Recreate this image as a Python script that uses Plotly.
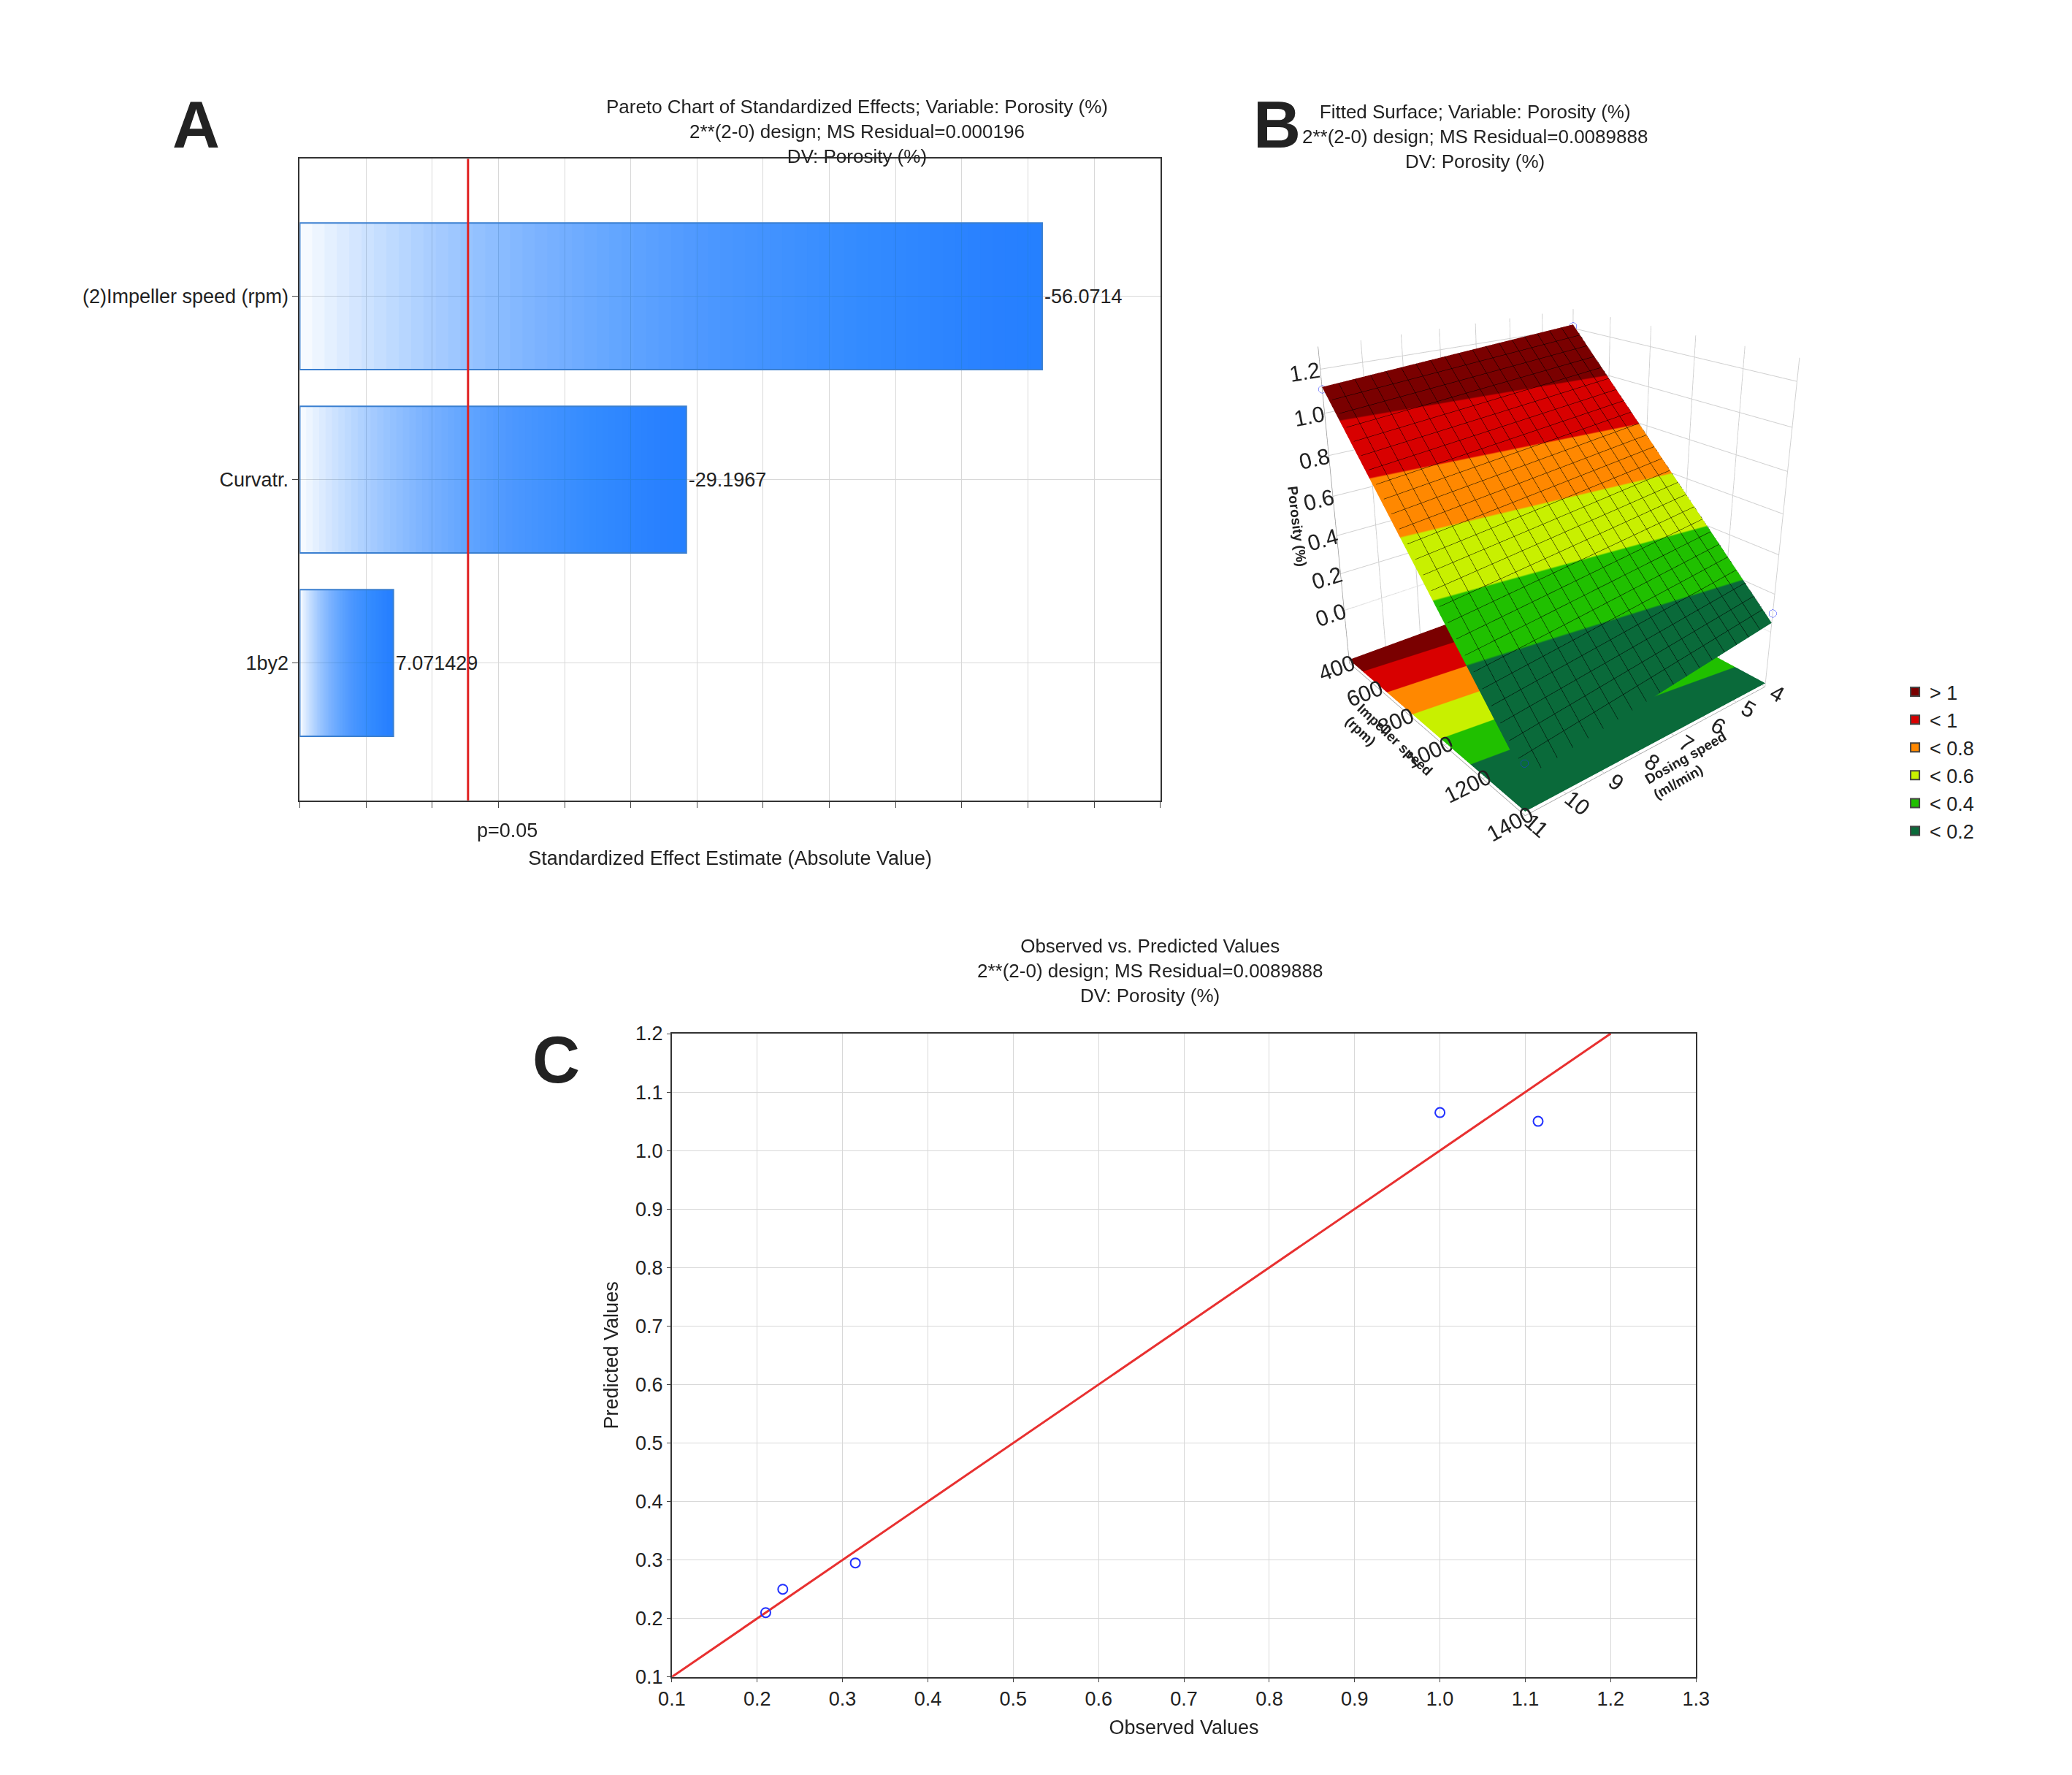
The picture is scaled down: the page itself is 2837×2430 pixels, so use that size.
import numpy as np
import plotly.graph_objects as go

# ---- Panel A data
effects = ["(2)Impeller speed (rpm)", "Curvatr.", "1by2"]
effect_values = [56.0714, 29.1967, 7.071429]
effect_labels = ["-56.0714", "-29.1967", "7.071429"]
p_crit = 12.706

# ---- Panel B data (fitted model corners)
impeller_levels = [400, 1400]
dosing_levels = [4, 11]
corner_z = [[1.22, 1.12], [0.05, -0.12]]  # [impeller][dosing]
obs_imp = [400, 1400, 1400, 400]
obs_dos = [4, 4, 11, 11]
obs_por = [1.21, 0.10, -0.05, 1.11]
band_labels = ["> 1", "< 1", "< 0.8", "< 0.6", "< 0.4", "< 0.2"]
band_colors = ["#7a0000", "#d80000", "#ff8800", "#c8f000", "#20c000", "#0a6a3a"]

# ---- Panel C data
observed = [0.21, 0.23, 0.315, 1.0, 1.115]
predicted = [0.21, 0.25, 0.295, 1.065, 1.05]
line_ends = [0.1, 1.2]

FONT = "Liberation Sans, Arial, sans-serif"
fig = go.Figure()

N = 60
for k in range(N):
    fig.add_trace(go.Bar(
        y=effects, x=[v * (1 - k / N) for v in effect_values],
        base=[v * k / N for v in effect_values], orientation="h",
        marker=dict(color="rgba(30,140,255,0.04)", line_width=0),
        width=0.8, showlegend=False, hoverinfo="skip", xaxis="x", yaxis="y"))
fig.add_trace(go.Bar(
    y=effects, x=effect_values, orientation="h", width=0.8,
    marker=dict(color="rgba(0,0,0,0)", line=dict(color="#3a7fd0", width=2)),
    text=effect_labels, textposition="outside",
    textfont=dict(size=27, color="#222"), cliponaxis=False,
    showlegend=False, xaxis="x", yaxis="y"))
fig.add_shape(type="line", x0=p_crit, x1=p_crit, y0=0, y1=1, xref="x", yref="y domain",
              line=dict(color="#e02020", width=3))

# Surface (x = dosing, y = impeller)
gi = np.linspace(impeller_levels[0], impeller_levels[1], 26)
gd = np.linspace(dosing_levels[0], dosing_levels[1], 19)
D, I = np.meshgrid(gd, gi)
u = (I - impeller_levels[0]) / (impeller_levels[1] - impeller_levels[0])
w = (D - dosing_levels[0]) / (dosing_levels[1] - dosing_levels[0])
Z = (corner_z[0][0] * (1 - u) * (1 - w) + corner_z[0][1] * (1 - u) * w
     + corner_z[1][0] * u * (1 - w) + corner_z[1][1] * u * w)
thr = [0.2, 0.4, 0.6, 0.8, 1.0]
cols = band_colors[::-1]
zmin, zmax = 0.0, 1.2
cs = []
edges = [zmin] + thr + [zmax]
for i, c in enumerate(cols):
    a = (edges[i] - zmin) / (zmax - zmin)
    b = (edges[i + 1] - zmin) / (zmax - zmin)
    cs += [[a, c], [b, c]]
Zc = np.clip(Z, zmin, zmax)
fig.add_trace(go.Surface(
    x=D, y=I, z=Z, surfacecolor=Zc, cmin=zmin, cmax=zmax, colorscale=cs,
    showscale=False, scene="scene",
    contours=dict(x=dict(show=True, color="black", width=3, start=4, end=11, size=7 / 18),
                  y=dict(show=True, color="black", width=3, start=400, end=1400, size=40)),
    lighting=dict(ambient=0.95, diffuse=0.1, specular=0.0)))
floor = np.full_like(Z, -0.28)
fig.add_trace(go.Surface(
    x=D, y=I, z=floor, surfacecolor=Zc, cmin=zmin, cmax=zmax, colorscale=cs,
    showscale=False, scene="scene", lighting=dict(ambient=1, diffuse=0, specular=0)))
fig.add_trace(go.Scatter3d(
    x=obs_dos, y=obs_imp, z=obs_por, mode="markers", scene="scene",
    marker=dict(size=6, color="rgba(0,0,0,0)", line=dict(color="#2030ff", width=4)),
    showlegend=False))

for lab, col in zip(band_labels, band_colors):
    fig.add_trace(go.Scatter(x=[None], y=[None], mode="markers", name=lab,
                             marker=dict(symbol="square", size=30, color=col,
                                         line=dict(color="#444", width=1)),
                             xaxis="x2", yaxis="y2"))

fig.add_trace(go.Scatter(x=line_ends, y=line_ends, mode="lines",
                         line=dict(color="#e83030", width=3), showlegend=False,
                         xaxis="x2", yaxis="y2"))
fig.add_trace(go.Scatter(x=observed, y=predicted, mode="markers",
                         marker=dict(symbol="circle-open", size=13, color="#2030ff",
                                     line=dict(width=2)),
                         showlegend=False, xaxis="x2", yaxis="y2"))

axfont = dict(size=27, color="#222", family=FONT)
ax3 = dict(showbackground=True, backgroundcolor="white", gridcolor="#d0d0d0",
           showline=True, linecolor="#888", tickfont=dict(size=19, color="#222", family=FONT))
tfont3 = dict(size=19, family=FONT, color="#222")
fig.update_layout(
    width=2837, height=2430, paper_bgcolor="white", plot_bgcolor="white",
    font=dict(family=FONT, color="#222"), margin=dict(l=0, r=0, t=0, b=0),
    barmode="overlay",
    xaxis=dict(domain=[0.137, 0.558], anchor="y", range=[0, 65], dtick=5,
               showticklabels=False, showgrid=True, gridcolor="#d8d8d8",
               showline=True, linecolor="#333", linewidth=2, mirror=True, zeroline=False,
               ticks="outside", ticklen=8,
               title=dict(text="Standardized Effect Estimate (Absolute Value)", font=axfont, standoff=60)),
    yaxis=dict(domain=[0.553, 0.919], anchor="x", range=[2.75, -0.75], tickfont=axfont,
               showline=True, linecolor="#333", linewidth=2, mirror=True,
               showgrid=True, gridcolor="#d8d8d8", ticks="outside", ticklen=8),
    xaxis2=dict(domain=[0.319, 0.82], anchor="y2", range=[0.1, 1.3], dtick=0.1,
                tickformat=".1f", tickfont=axfont, showgrid=True, gridcolor="#d8d8d8",
                showline=True, linecolor="#333", linewidth=2, mirror=True, zeroline=False,
                ticks="outside", title=dict(text="Observed Values", font=axfont)),
    yaxis2=dict(domain=[0.053, 0.42], anchor="x2", range=[0.1, 1.2], dtick=0.1,
                tickformat=".1f", tickfont=axfont, showgrid=True, gridcolor="#d8d8d8",
                showline=True, linecolor="#333", linewidth=2, mirror=True, zeroline=False,
                ticks="outside", title=dict(text="Predicted Values", font=axfont)),
    scene=dict(domain=dict(x=[0.57, 0.93], y=[0.49, 0.93]),
               xaxis=dict(ax3, title=dict(text="<b>Dosing speed<br>(ml/min)</b>", font=tfont3),
                          range=[4, 11], dtick=1),
               yaxis=dict(ax3, title=dict(text="<b>Impeller speed<br>(rpm)</b>", font=tfont3),
                          range=[400, 1400], dtick=200),
               zaxis=dict(ax3, title=dict(text="<b>Porosity (%)</b>", font=tfont3),
                          range=[-0.3, 1.3], tickvals=[0, 0.2, 0.4, 0.6, 0.8, 1.0, 1.2],
                          tickformat=".1f"),
               aspectmode="manual", aspectratio=dict(x=1, y=1, z=1.1),
               camera=dict(eye=dict(x=1.7, y=2.1, z=1.15))),
    legend=dict(x=0.92, y=0.625, xanchor="left", yanchor="top",
                font=dict(size=27, family=FONT), tracegroupgap=0, itemsizing="constant"),
)

def ann(text, x, y, size=27, bold=False):
    fig.add_annotation(text=f"<b>{text}</b>" if bold else text, x=x, y=y, xref="paper",
                       yref="paper", showarrow=False, font=dict(size=size, family=FONT, color="#222"))

ann("Pareto Chart of Standardized Effects; Variable: Porosity (%)<br>2**(2-0) design; MS Residual=0.000196<br>DV: Porosity (%)", 0.286, 0.956, size=26)
ann("p=0.05", 0.223, 0.536)
ann("Fitted Surface; Variable: Porosity (%)<br>2**(2-0) design; MS Residual=0.0089888<br>DV: Porosity (%)", 0.797, 0.953, size=26)
ann("Observed vs. Predicted Values<br>2**(2-0) design; MS Residual=0.0089888<br>DV: Porosity (%)", 0.553, 0.456, size=26)
ann("A", 0.074, 0.96, size=90, bold=True)
ann("B", 0.615, 0.96, size=90, bold=True)
ann("C", 0.25, 0.405, size=90, bold=True)

fig.write_html("out.html")
